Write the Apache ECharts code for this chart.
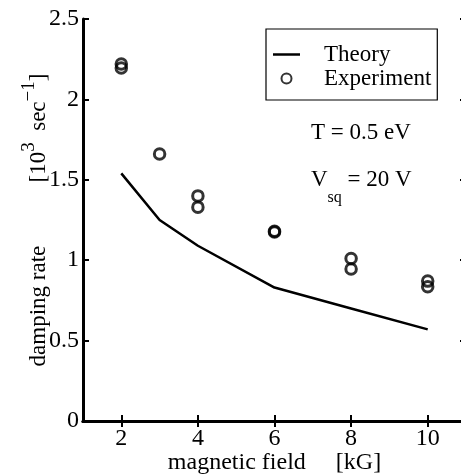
<!DOCTYPE html>
<html>
<head>
<meta charset="utf-8">
<script src="https://cdn.jsdelivr.net/npm/echarts@6/dist/echarts.min.js"></script>
<style>
html,body{margin:0;padding:0;background:#fff;}
#c{width:461px;height:474px;}
</style>
</head>
<body>
<div id="c"></div>
<script>
// ---- data ----
const theoryField = [2, 3, 4, 6, 8, 10];
const theoryRate  = [1.54, 1.25, 1.09, 0.83, 0.70, 0.57];
const expField = [2, 2, 3, 4, 4, 6, 6, 8, 8, 10, 10];
const expRate  = [2.22, 2.195, 1.66, 1.40, 1.33, 1.18, 1.175, 1.01, 0.945, 0.87, 0.835];
const xTicks = [2, 4, 6, 8, 10];
const yTicks = [0, 0.5, 1, 1.5, 2, 2.5];
const seriesNames = ['Theory', 'Experiment'];
const annotT = 'T = 0.5 eV';

const FONT = 'Liberation Serif';
const chart = echarts.init(document.getElementById('c'), null, {renderer: 'canvas'});

const axisLine = {show: true, lineStyle: {color: '#000', width: 3}};
const tickIn = {show: true, inside: true, length: 6, lineStyle: {color: '#000', width: 2}};

const option = {
  animation: false,
  backgroundColor: '#fff',
  grid: {left: 83, top: 19, width: 383, height: 402, containLabel: false, outerBoundsMode: 'none'},
  legend: {
    orient: 'vertical',
    left: 266, top: 29,
    data: [
      {name: seriesNames[0], icon: 'path://M0,0H27V2.5H0Z'},
      {name: seriesNames[1]}
    ],
    backgroundColor: '#fff',
    borderColor: '#000', borderWidth: 1.2,
    padding: [14, 6, 10, 7],
    itemWidth: 27, itemHeight: 10, itemGap: 1,
    textStyle: {fontFamily: FONT, fontSize: 23, color: '#000', lineHeight: 20, padding: [0, 0, 0, 19]}
  },
  xAxis: [{
    type: 'value', min: 1, max: 11,
    name: 'magnetic field     [kG]', nameLocation: 'middle', nameGap: 30, nameMoveOverlap: false,
    nameTextStyle: {fontFamily: FONT, fontSize: 24, color: '#000', lineHeight: 24},
    axisLine: axisLine,
    axisTick: Object.assign({customValues: xTicks}, tickIn),
    axisLabel: {customValues: xTicks, fontFamily: FONT, fontSize: 24, color: '#000', margin: 6},
    splitLine: {show: false}
  }, {
    type: 'value', min: 1, max: 11, position: 'top',
    axisLine: axisLine,
    axisTick: Object.assign({customValues: xTicks}, tickIn),
    axisLabel: {show: false},
    splitLine: {show: false}
  }],
  yAxis: [{
    type: 'value', min: 0, max: 2.5, interval: 0.5,
    name: '{n|damping rate           [10}{s|3}{n|  sec}{s|−1}{n|]}',
    nameLocation: 'middle', nameGap: 33, nameRotate: 90, nameMoveOverlap: false,
    nameTextStyle: {
      fontFamily: FONT, fontSize: 23, color: '#000',
      rich: {
        n: {fontFamily: FONT, fontSize: 23, color: '#000', lineHeight: 30, verticalAlign: 'bottom'},
        s: {fontFamily: FONT, fontSize: 19, color: '#000', lineHeight: 30, verticalAlign: 'top'}
      }
    },
    axisLine: axisLine,
    axisTick: tickIn,
    axisLabel: {fontFamily: FONT, fontSize: 24, color: '#000', margin: 4},
    splitLine: {show: false}
  }, {
    type: 'value', min: 0, max: 2.5, interval: 0.5, position: 'right',
    axisLine: axisLine,
    axisTick: tickIn,
    axisLabel: {show: false},
    splitLine: {show: false}
  }],
  series: [{
    name: seriesNames[0],
    type: 'line',
    data: theoryField.map((x, i) => [x, theoryRate[i]]),
    symbol: 'none',
    lineStyle: {color: '#000', width: 2.5},
    itemStyle: {color: '#000'},
    z: 3
  }, {
    name: seriesNames[1],
    type: 'scatter',
    data: expField.map((x, i) => [x, expRate[i]]),
    symbol: 'circle',
    symbolSize: 10.5,
    itemStyle: {color: 'rgba(0,0,0,0)', borderColor: '#000', borderWidth: 3},
    z: 4
  }],
  graphic: [
    {type: 'text', left: 311, top: 121,
     style: {text: annotT, font: '23px "Liberation Serif"', fill: '#000'}},
    {type: 'text', left: 311, top: 168,
     style: {text: '{v|V}{s|sq}{v| = 20 V}', font: '23px "Liberation Serif"', fill: '#000',
       rich: {v: {font: '23px "Liberation Serif"', fill: '#000', lineHeight: 38, verticalAlign: 'top'},
              s: {font: '16px "Liberation Serif"', fill: '#000', lineHeight: 38, verticalAlign: 'bottom'}}}}
  ]
};
chart.setOption(option);
</script>
</body>
</html>
